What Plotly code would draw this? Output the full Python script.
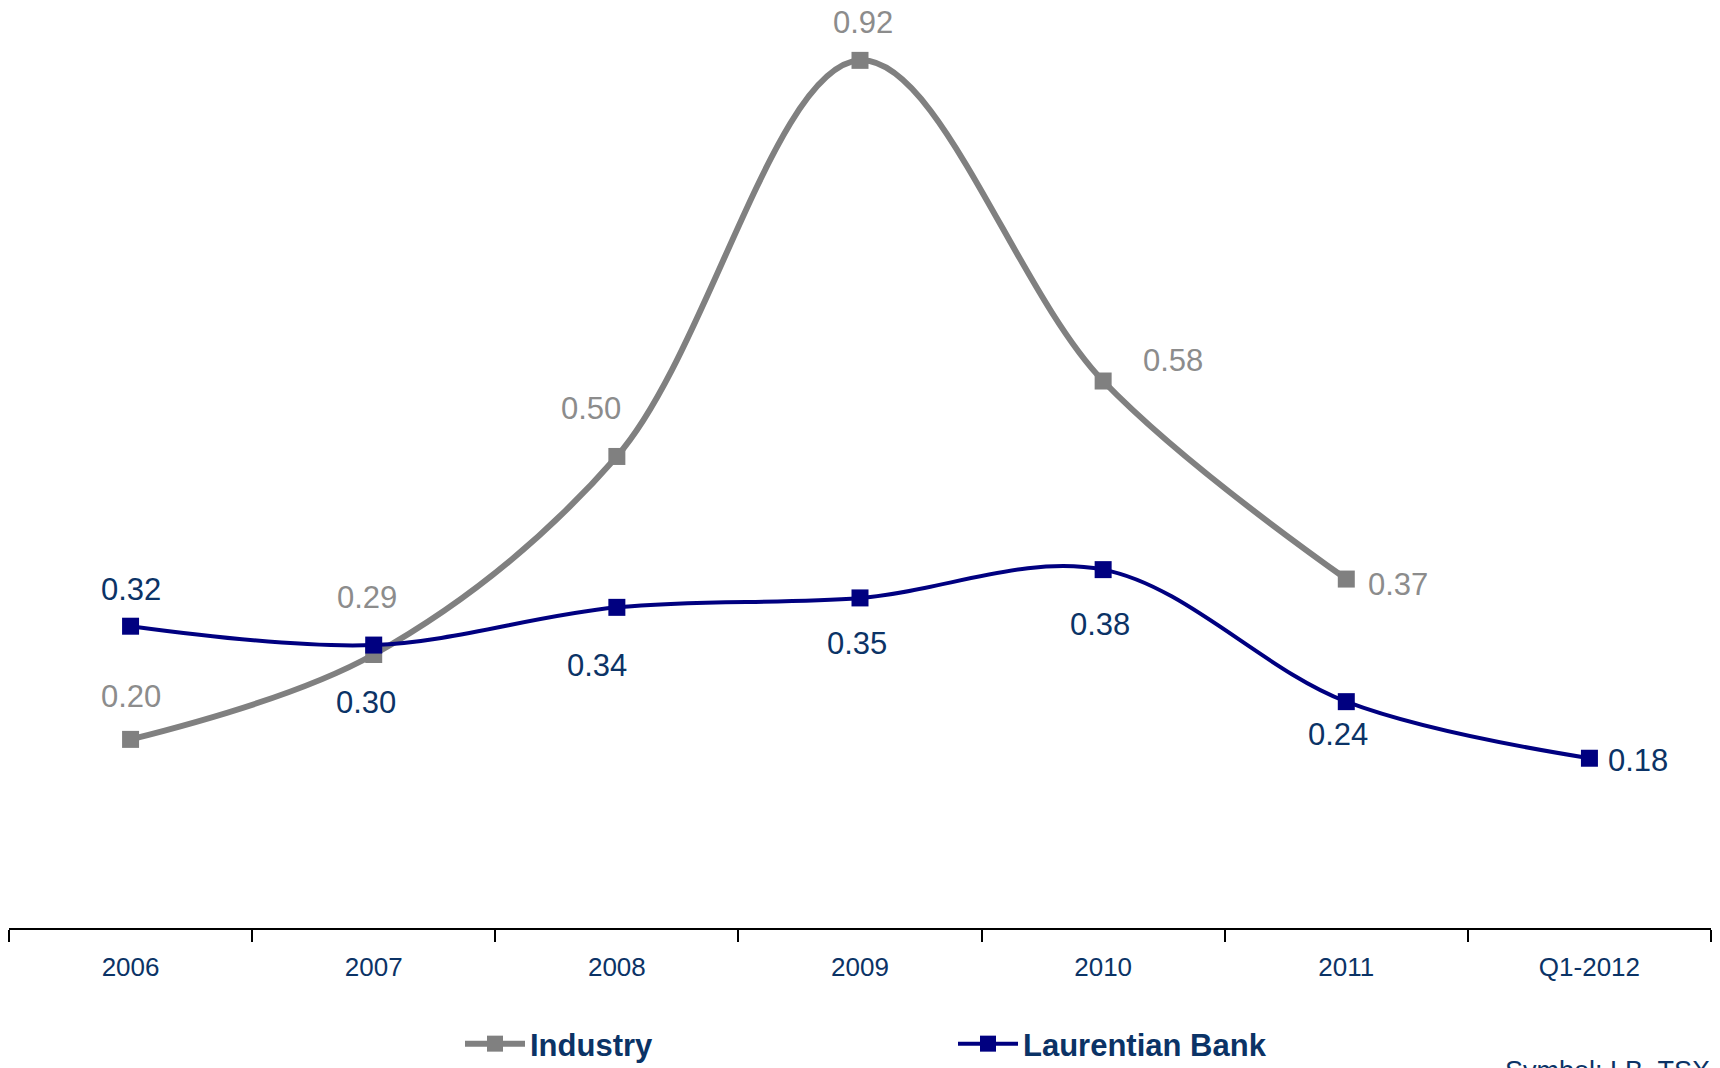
import plotly.graph_objects as go

categories = ["2006", "2007", "2008", "2009", "2010", "2011", "Q1-2012"]
industry = [0.20, 0.29, 0.50, 0.92, 0.58, 0.37, None]
laurentian = [0.32, 0.30, 0.34, 0.35, 0.38, 0.24, 0.18]

# label offsets (px) for data labels
ind_shift = [(0, 43), (-7, 57), (-26, 48), (3, 38), (70, 21), (52, -5)]
lau_shift = [(0, 37), (-8, -57), (-20, -58), (-3, -46), (-3, -55), (-8, -33), (49, -2)]

GREY = "#808080"
NAVY = "#000080"
TXT_BLUE = "#0b3366"
LBL_GREY = "#8c8c8c"
FONT = "Liberation Sans, Arial, sans-serif"
PLOT_H = 928

fig = go.Figure()
fig.add_trace(go.Scatter(
    x=categories[:6], y=industry[:6], name="Industry", mode="lines+markers",
    line=dict(color=GREY, width=6, shape="spline", smoothing=1),
    marker=dict(symbol="square", size=17, color=GREY),
))
fig.add_trace(go.Scatter(
    x=categories, y=laurentian, name="Laurentian Bank", mode="lines+markers",
    line=dict(color=NAVY, width=4, shape="spline", smoothing=1),
    marker=dict(symbol="square", size=17, color=NAVY),
))

annotations = []
for i, v in enumerate(industry):
    if v is None:
        continue
    dx, dy = ind_shift[i]
    annotations.append(dict(xref="x", yref="y", x=i, y=v, text=f"{v:.2f}", showarrow=False,
                            xshift=dx, yshift=dy,
                            font=dict(family=FONT, size=31, color=LBL_GREY)))
for i, v in enumerate(laurentian):
    dx, dy = lau_shift[i]
    annotations.append(dict(xref="x", yref="y", x=i, y=v, text=f"{v:.2f}", showarrow=False,
                            xshift=dx, yshift=dy,
                            font=dict(family=FONT, size=31, color=TXT_BLUE)))
annotations.append(dict(xref="paper", yref="paper", x=(1503 - 9) / 1702, y=(PLOT_H - 1054) / PLOT_H,
                        xanchor="left", yanchor="top", showarrow=False,
                        text="Symbol: LB, TSX",
                        font=dict(family=FONT, size=27, color=TXT_BLUE)))

fig.update_layout(
    width=1720, height=1068,
    margin=dict(l=9, r=9, t=0, b=1068 - PLOT_H, autoexpand=False),
    paper_bgcolor="white", plot_bgcolor="white",
    showlegend=True,
    legend=dict(orientation="h", x=(460 - 9) / 1702, y=(PLOT_H - 1044) / PLOT_H,
                xanchor="left", yanchor="middle",
                font=dict(family=FONT, size=31, color=TXT_BLUE, weight="bold"),
                entrywidth=418, itemwidth=60, bgcolor="rgba(0,0,0,0)"),
    annotations=annotations,
    xaxis=dict(type="category", categoryorder="array", categoryarray=categories,
               range=[-0.5, 6.5], showgrid=False, zeroline=False,
               showline=True, linecolor="black", linewidth=2,
               ticks="outside", tickson="boundaries", ticklen=12, tickwidth=2, tickcolor="black",
               ticklabelstandoff=15,
               tickfont=dict(family=FONT, size=26, color=TXT_BLUE)),
    yaxis=dict(range=[0, 0.984], visible=False, showgrid=False, zeroline=False),
)

fig.write_html("out.html")
